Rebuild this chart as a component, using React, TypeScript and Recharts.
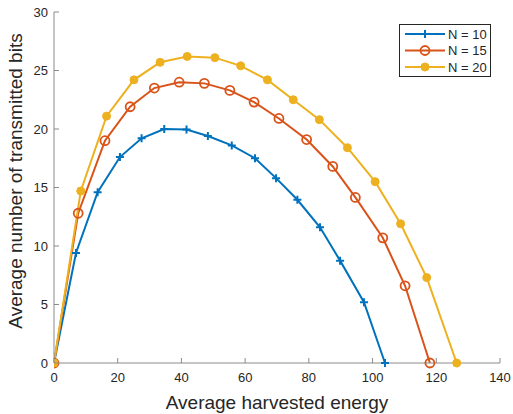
import { LineChart, Line, XAxis, YAxis, Legend, Label } from 'recharts'

const xN10 = [0, 6.9, 13.7, 20.7, 27.5, 34.6, 41.6, 48.3, 55.8, 63.1, 69.7, 76.4, 83.5, 89.8, 97.3, 103.9]
const yN10 = [0, 9.4, 14.6, 17.6, 19.2, 20.0, 19.95, 19.4, 18.6, 17.5, 15.8, 13.95, 11.6, 8.75, 5.2, 0]

const xN15 = [0, 7.6, 16.0, 23.9, 31.5, 39.3, 47.2, 55.2, 62.8, 70.6, 79.3, 87.5, 94.6, 103.2, 110.2, 118.0]
const yN15 = [0, 12.8, 19.0, 21.9, 23.5, 24.0, 23.9, 23.3, 22.3, 20.9, 19.1, 16.8, 14.15, 10.7, 6.6, 0]

const xN20 = [0, 8.4, 16.5, 25.1, 33.3, 41.8, 50.5, 58.6, 67.0, 75.1, 83.3, 92.1, 100.8, 108.8, 117.0, 126.4]
const yN20 = [0, 14.7, 21.1, 24.2, 25.7, 26.2, 26.1, 25.4, 24.2, 22.5, 20.8, 18.4, 15.5, 11.9, 7.3, 0]

const xTicks = [0, 20, 40, 60, 80, 100, 120, 140]
const yTicks = [0, 5, 10, 15, 20, 25, 30]

const BLUE = '#0072BD'
const ORANGE = '#D95319'
const YELLOW = '#EDB120'
const AXIS = '#8a8a8a'
const TEXT = '#262626'
const FONT = '"Liberation Sans", Arial, Helvetica, sans-serif'

const toPoints = (xs: number[], ys: number[]) => xs.map((x, i) => ({ x, y: ys[i] }))

const n10 = toPoints(xN10, yN10)
const n15 = toPoints(xN15, yN15)
const n20 = toPoints(xN20, yN20)

type Marker = 'plus' | 'circle' | 'dot'

function drawMarker(kind: Marker, cx: number, cy: number, color: string, key?: string | number) {
  if (kind === 'plus') {
    return (
      <path key={key} d={`M${cx - 4},${cy}h8M${cx},${cy - 4}v8`} stroke={color} strokeWidth={2} fill="none" />
    )
  }
  if (kind === 'circle') {
    return <circle key={key} cx={cx} cy={cy} r={4.5} stroke={color} strokeWidth={1.8} fill="none" />
  }
  return <circle key={key} cx={cx} cy={cy} r={4} stroke={color} strokeWidth={1} fill={color} />
}

const markerFor: Record<string, Marker> = {
  'N = 10': 'plus',
  'N = 15': 'circle',
  'N = 20': 'dot',
}

const BottomTick = ({ x, y, payload }: any) => (
  <g>
    <line x1={x} x2={x} y1={y} y2={y - 5} stroke={AXIS} />
    <text x={x} y={y + 19} textAnchor="middle" fontSize={13} fill={TEXT} fontFamily={FONT}>
      {payload.value}
    </text>
  </g>
)

const LeftTick = ({ x, y, payload }: any) => (
  <g>
    <line x1={x} x2={x + 5} y1={y} y2={y} stroke={AXIS} />
    <text x={x - 6} y={y + 4.5} textAnchor="end" fontSize={13} fill={TEXT} fontFamily={FONT}>
      {payload.value}
    </text>
  </g>
)

const TopTick = ({ x, y }: any) => <line x1={x} x2={x} y1={y} y2={y + 5} stroke={AXIS} />
const RightTick = ({ x, y }: any) => <line x1={x} x2={x - 5} y1={y} y2={y} stroke={AXIS} />

const LegendBox = ({ payload }: any) => (
  <div
    style={{
      width: 92,
      height: 53,
      boxSizing: 'border-box',
      border: `1px solid ${TEXT}`,
      background: '#fff',
    }}
  >
    <svg width={90} height={51} style={{ display: 'block' }}>
      {(payload || []).map((entry: any, i: number) => {
        const cy = 9 + i * 16.5
        return (
          <g key={entry.value}>
            <line x1={5} x2={45} y1={cy} y2={cy} stroke={entry.color} strokeWidth={2} />
            {drawMarker(markerFor[entry.value], 25, cy, entry.color)}
            <text x={48} y={cy + 4.5} fontSize={13} fill={TEXT} fontFamily={FONT}>
              {entry.value}
            </text>
          </g>
        )
      })}
    </svg>
  </div>
)

const dotFor = (kind: Marker, color: string) => (props: any) =>
  drawMarker(kind, props.cx, props.cy, color, props.index)

export default function App() {
  return (
    <div style={{ position: 'absolute', left: 0, top: 0, fontFamily: FONT }}>
      <LineChart width={513} height={414} margin={{ top: 12, right: 13, bottom: 0, left: 0 }}>
        <XAxis
          dataKey="x"
          type="number"
          domain={[0, 140]}
          ticks={xTicks}
          interval={0}
          height={51}
          tickSize={0}
          tickMargin={0}
          tickLine={false}
          tick={<BottomTick />}
          axisLine={{ stroke: AXIS }}
          allowDataOverflow
        >
          <Label
            content={() => (
              <text x={277} y={409} textAnchor="middle" fontSize={19} fill={TEXT} fontFamily={FONT}>
                Average harvested energy
              </text>
            )}
          />
        </XAxis>
        <XAxis
          xAxisId="top"
          orientation="top"
          type="number"
          domain={[0, 140]}
          ticks={xTicks}
          interval={0}
          height={0}
          tickSize={0}
          tickMargin={0}
          tickLine={false}
          tick={<TopTick />}
          axisLine={{ stroke: AXIS }}
        />
        <YAxis
          type="number"
          domain={[0, 30]}
          ticks={yTicks}
          interval={0}
          width={54}
          tickSize={0}
          tickMargin={0}
          tickLine={false}
          tick={<LeftTick />}
          axisLine={{ stroke: AXIS }}
        >
          <Label
            content={() => (
              <text
                x={22}
                y={181}
                transform="rotate(-90 22 181)"
                textAnchor="middle"
                fontSize={19}
                fill={TEXT}
                fontFamily={FONT}
              >
                Average number of transmitted bits
              </text>
            )}
          />
        </YAxis>
        <YAxis
          yAxisId="right"
          orientation="right"
          type="number"
          domain={[0, 30]}
          ticks={yTicks}
          interval={0}
          width={0}
          tickSize={0}
          tickMargin={0}
          tickLine={false}
          tick={<RightTick />}
          axisLine={{ stroke: AXIS }}
        />
        <Legend
          layout="vertical"
          align="center"
          verticalAlign="middle"
          content={<LegendBox />}
          wrapperStyle={{ left: 399, top: 24, width: 92, height: 53 }}
        />
        <Line
          data={n10}
          dataKey="y"
          name="N = 10"
          stroke={BLUE}
          strokeWidth={2}
          dot={dotFor('plus', BLUE)}
          isAnimationActive={false}
        />
        <Line
          data={n15}
          dataKey="y"
          name="N = 15"
          stroke={ORANGE}
          strokeWidth={2}
          dot={dotFor('circle', ORANGE)}
          isAnimationActive={false}
        />
        <Line
          data={n20}
          dataKey="y"
          name="N = 20"
          stroke={YELLOW}
          strokeWidth={2}
          dot={dotFor('dot', YELLOW)}
          isAnimationActive={false}
        />
      </LineChart>
    </div>
  )
}
